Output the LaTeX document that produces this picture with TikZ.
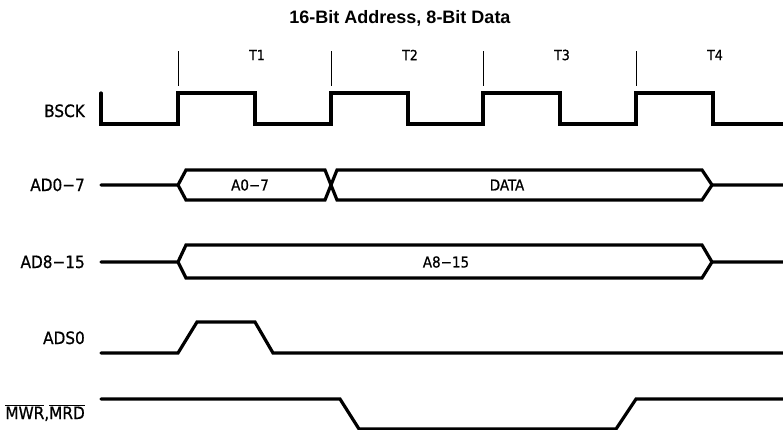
\documentclass[tikz,border=0pt]{standalone}
\usepackage{fontspec}
\setmainfont{DejaVu Sans Condensed}[FakeBold=0.8]
\newfontfamily\titlefont{Liberation Sans}
\begin{document}
\begin{tikzpicture}[x=1pt, y=-1pt,
    wave/.style={line width=3.2pt, line cap=round, line join=miter},
    tick/.style={line width=0.8pt},
    sig/.style={anchor=base east, inner sep=0pt, font=\fontsize{17}{17}\selectfont},
    tlbl/.style={inner sep=0pt, font=\fontsize{14}{14}\selectfont},
    bus/.style={inner sep=0pt, font=\fontsize{15}{15}\selectfont}]
    \useasboundingbox (0,0) rectangle (783,429);
    \node[font=\titlefont\bfseries\fontsize{18}{18}\selectfont] (title) at (400,18) {16-Bit Address, 8-Bit Data};
    % clock periods
    \foreach \x/\t in {178/T1, 331/T2, 483/T3, 636/T4} {
        \draw[tick] (\x,51) -- (\x,86);
        \node[tlbl] (\t) at (\x+79,55) {\t};
    }
    % signal names
    \node[sig] (bsck) at (85,117) {BSCK};
    \node[sig] (ad07) at (85,191) {AD0−7};
    \node[sig] (ad815) at (85,268) {AD8−15};
    \node[sig] (ads0) at (85,344) {ADS0};
    \node[sig] (mwr) at (85,419) {$\overline{\mbox{MWR}}$,$\overline{\mbox{MRD}}$};
    % BSCK
    \draw[wave] (101,93) -- (101,124) \foreach \x in {178,331,483,636} {-- (\x,124) -- (\x,93) -- (\x+77,93) -- (\x+77,124)} -- (785,124);
    % AD0-7
    \draw[wave] (101,185) -- (178,185) -- (186,170) -- (325,170) -- (337,200) -- (702,200) -- (712,185) -- (785,185);
    \draw[wave] (178,185) -- (186,200) -- (325,200) -- (337,170) -- (702,170) -- (712,185);
    \node[bus] (a07) at (250,185) {A0−7};
    \node[bus] (data) at (507,185) {DATA};
    % AD8-15
    \draw[wave] (101,262) -- (178,262) -- (186,245) -- (702,245) -- (712,262) -- (785,262);
    \draw[wave] (178,262) -- (186,278) -- (702,278) -- (712,262);
    \node[bus] (a815) at (446,262) {A8−15};
    % ADS0
    \draw[wave] (101,353) -- (178,353) -- (197,322) -- (255,322) -- (273,353) -- (785,353);
    % MWR, MRD
    \draw[wave] (101,399) -- (340,399) -- (359,429) -- (616,429) -- (636,399) -- (785,399);
\end{tikzpicture}
\end{document}
